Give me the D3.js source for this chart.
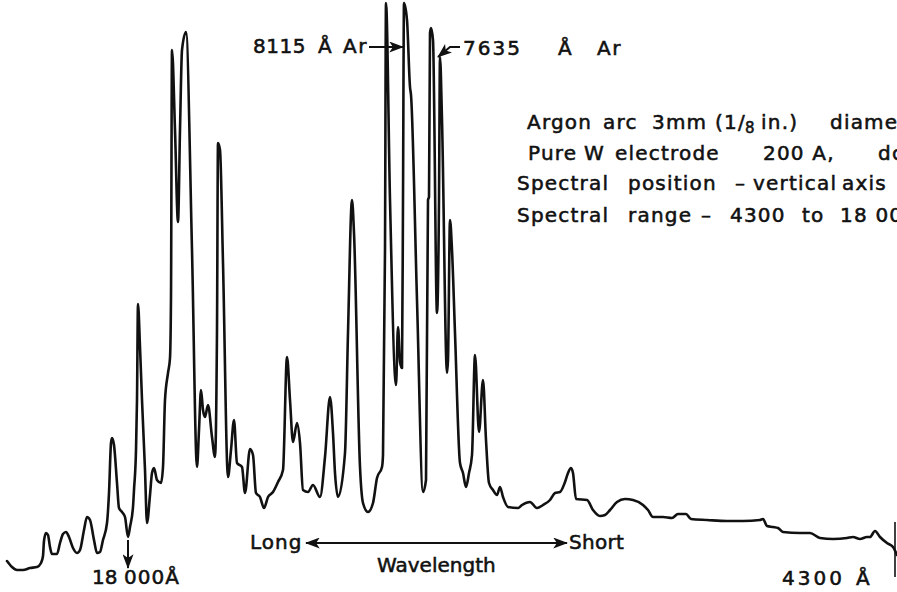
<!DOCTYPE html>
<html>
<head>
<meta charset="utf-8">
<script src="https://cdn.jsdelivr.net/npm/d3@7"></script>
<style>
  html, body { margin: 0; padding: 0; background: #fff; overflow: hidden; }
  svg { display: block; }
  text {
    font-family: "DejaVu Sans", sans-serif; font-weight: normal; font-size: 20px;
    fill: #111; stroke: #111; stroke-width: 0.55px;
  }
</style>
</head>
<body>
<svg id="chart" width="897" height="592"></svg>
<script>
// Recorder trace of the argon arc spectrum: pen travel (long -> short wavelength)
// against detector deflection, both in recorder units.
const position = [
  7, 12, 17, 23, 30, 37, 41, 43, 44, 46,
  48, 50, 52, 57, 60, 63, 66, 69, 73, 77,
  80, 84, 87, 90, 94, 97, 100, 103, 107, 109,
  111, 112, 114, 117, 119, 122, 125, 128, 130, 133,
  134, 136, 137, 138, 140, 142, 145, 147, 150, 152,
  154, 157, 161, 163, 165, 168, 170, 171, 172, 175,
  178, 180, 182, 186, 192, 197, 199, 201, 203, 205,
  208, 212, 215, 217, 218, 220, 223, 228, 231, 234,
  237, 242, 245, 250, 253, 256, 260, 264, 268, 273,
  278, 283, 287, 290, 293, 297, 300, 303, 308, 313,
  320, 325, 330, 333, 335, 338, 345, 348, 352, 354,
  360, 363, 368, 373, 377, 382, 383, 385, 386, 390,
  396, 398, 400, 402, 403, 404, 407, 410, 411, 417,
  423, 426, 428, 429, 430, 431, 433, 437, 439, 440,
  442, 447, 448, 450, 452, 455, 460, 463, 466, 469,
  472, 475, 479, 483, 486, 489, 493, 497, 500, 503,
  508, 518, 522, 530, 537, 543, 550, 555, 560, 565,
  568, 571, 573, 576, 587, 593, 600, 605, 610, 617,
  625, 633, 643, 648, 653, 663, 672, 678, 686, 691,
  707, 727, 743, 760, 763, 767, 773, 778, 783, 800,
  810, 820, 833, 847, 853, 860, 867, 870, 875, 880,
  887, 893, 897
];

const signal = [
  39, 33, 30, 30, 32, 33, 37, 44, 59, 67,
  65, 53, 46, 46, 57, 66, 68, 63, 52, 47,
  50, 70, 83, 80, 60, 47, 48, 60, 77, 107,
  157, 162, 155, 117, 92, 88, 83, 63, 73, 93,
  110, 150, 200, 296, 253, 200, 130, 77, 105, 127,
  132, 120, 117, 133, 200, 227, 242, 303, 550, 470,
  378, 470, 550, 568, 350, 133, 170, 210, 190, 183,
  195, 163, 143, 270, 457, 450, 337, 123, 150, 180,
  137, 133, 107, 151, 145, 107, 103, 92, 103, 108,
  118, 130, 243, 200, 158, 177, 157, 110, 108, 115,
  103, 143, 203, 167, 127, 103, 147, 267, 400, 367,
  133, 97, 88, 97, 122, 133, 145, 350, 597, 400,
  215, 273, 238, 232, 400, 597, 580, 513, 505, 300,
  108, 120, 400, 403, 567, 572, 560, 287, 400, 543,
  480, 227, 240, 380, 350, 267, 137, 127, 113, 127,
  145, 245, 168, 220, 160, 117, 110, 105, 113, 103,
  93, 92, 95, 98, 92, 95, 100, 107, 108, 118,
  127, 132, 127, 101, 100, 90, 84, 85, 90, 98,
  101, 100, 95, 90, 83, 83, 82, 86, 86, 81,
  80, 79, 79, 80, 81, 74, 73, 72, 68, 67,
  67, 62, 61, 62, 63, 61, 63, 63, 69, 63,
  57, 53, 45
];

// Range end marks on the trace
const rangeLabels = ["18 000Å", "4300Å"];
const rangePositions = [128, 895];

// Identified argon lines
const lineLabels = ["8115 Å Ar", "7635 Å Ar"];
const linePositions = [404, 437];

// Run conditions, one list of words per line
const notes = [
  ["Argon", "arc", "3mm", "(1/", "8", "in.)", "diameter"],
  ["Pure", "W", "electrode", "200 A,", "dc"],
  ["Spectral", "position", "–", "vertical", "axis"],
  ["Spectral", "range", "–", "4300", "to", "18 000 Å"]
];

const W = 897, H = 592;
const svg = d3.select("#chart");

const x = d3.scaleLinear().domain([0, 897]).range([0, W]);
const y = d3.scaleLinear().domain([0, 600]).range([600, 0]);

const defs = svg.append("defs");
defs.append("marker")
  .attr("id", "head")
  .attr("viewBox", "0 0 16 12")
  .attr("refX", 15).attr("refY", 6)
  .attr("markerWidth", 16).attr("markerHeight", 11)
  .attr("markerUnits", "userSpaceOnUse")
  .attr("orient", "auto-start-reverse")
  .append("path")
  .attr("d", "M0,0 L16,6 L0,12 L4,6 Z")
  .attr("fill", "#111");

// Spectrum trace
const trace = position.map((p, i) => [p, signal[i]]);
svg.append("path")
  .datum(trace)
  .attr("fill", "none")
  .attr("stroke", "#111")
  .attr("stroke-width", 2.6)
  .attr("stroke-linejoin", "round")
  .attr("stroke-linecap", "round")
  .attr("d", d3.line().x(d => x(d[0])).y(d => y(d[1])).curve(d3.curveMonotoneX));

// 18 000 Å pointer
svg.append("line")
  .attr("x1", x(rangePositions[0])).attr("x2", x(rangePositions[0]))
  .attr("y1", y(60)).attr("y2", y(32))
  .attr("stroke", "#111").attr("stroke-width", 2)
  .attr("marker-end", "url(#head)");

// 4300 Å end stroke
svg.append("line")
  .attr("x1", x(rangePositions[1])).attr("x2", x(rangePositions[1]))
  .attr("y1", y(78)).attr("y2", y(23))
  .attr("stroke", "#111").attr("stroke-width", 1.6);

// Places one word with its own letter spacing
function word(xx, yy, t, ls) {
  return svg.append("text").attr("x", xx).attr("y", yy)
    .attr("letter-spacing", ls || 0).text(t);
}

const lo = rangeLabels[0].split(" ");
word(92, 584, lo[0], 0);
word(124, 584, lo[1], 1);
const hi = rangeLabels[1].replace("Å", "");
word(782, 585, hi, 3);
word(856, 585, "Å");

// Line identifications
const [w1, a1, e1] = lineLabels[0].split(" ");
word(253, 53, w1, 0.5);
word(318, 53, a1);
word(343, 53, e1, 1.5);
svg.append("line")
  .attr("x1", 369).attr("x2", x(linePositions[0]) - 1)
  .attr("y1", 47).attr("y2", 47)
  .attr("stroke", "#111").attr("stroke-width", 2)
  .attr("marker-end", "url(#head)");

const [w2, a2, e2] = lineLabels[1].split(" ");
word(463, 55, w2, 2);
word(558, 55, a2);
word(597, 55, e2, 1.5);
svg.append("path")
  .attr("d", `M460,47 L450,47 L${x(linePositions[1]) + 1},${y(543)}`)
  .attr("fill", "none")
  .attr("stroke", "#111").attr("stroke-width", 2)
  .attr("marker-end", "url(#head)");

// Run conditions block: word start positions per line
const noteX = [
  [527, 603, 652, 715, 745, 761, 830],
  [528, 584, 615, 763, 878],
  [517, 628, 735, 753, 842],
  [517, 628, 701, 730, 802, 840]
];
const noteBaselines = [129, 160, 190, 222];
notes.forEach((words, i) => {
  words.forEach((w, j) => {
    const sub = (i === 0 && w === "8");
    const el = word(noteX[i][j], noteBaselines[i] + (sub ? 4 : 0), w, 1.2);
    if (sub) el.style("font-size", "15px");
  });
});

// Wavelength direction arrow
svg.append("line")
  .attr("x1", 306).attr("x2", 567).attr("y1", 543).attr("y2", 543)
  .attr("stroke", "#111").attr("stroke-width", 2)
  .attr("marker-start", "url(#head)").attr("marker-end", "url(#head)");
word(250, 549, "Long", 1);
word(569, 549, "Short", 0.3);
word(377, 572, "Wavelength", 0);
</script>
</body>
</html>
